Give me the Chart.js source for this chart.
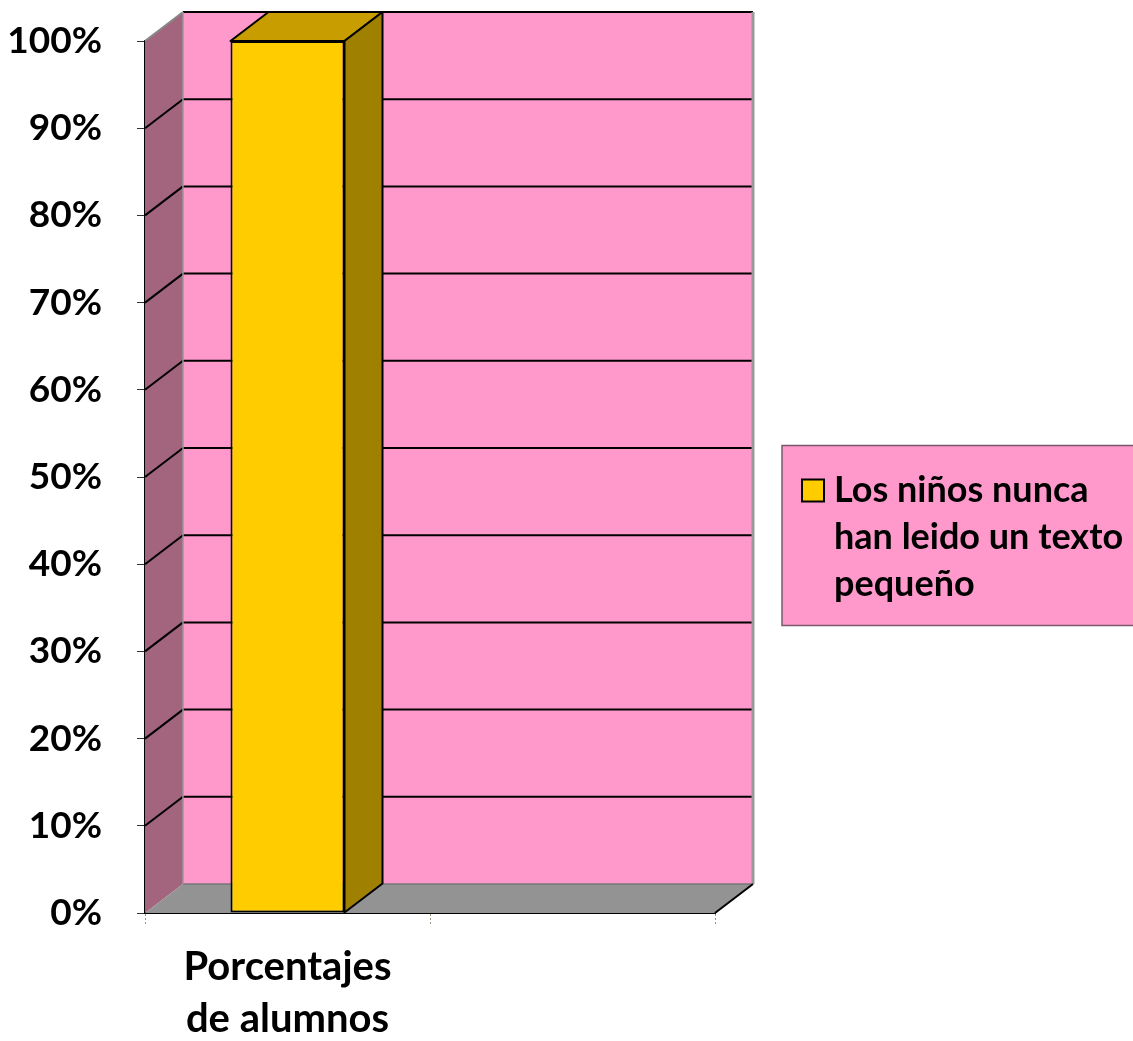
<!DOCTYPE html>
<html lang="es">
<head>
<meta charset="UTF-8">
<title>Porcentajes de alumnos</title>
<script src="https://cdn.jsdelivr.net/npm/chart.js"></script>
<style>
    html, body { margin: 0; padding: 0; background: #fff; }
    #marco { width: 1133px; height: 1041px; position: relative; }
</style>
</head>
<body>

<div id="marco"><canvas id="grafico"></canvas></div>

<script>
    const categorias = [["Porcentajes", "de alumnos"], ""];
    const serie = "Los niños nunca han leido un texto pequeño";
    const valores = [100, null];
    const ejeMin = 0, ejeMax = 100, paso = 10;

    const fuente = "Lato, 'Liberation Sans', sans-serif";
    const prof = { x: 38, y: 29 }; // profundidad del efecto 3D

    function poligono(ctx, pts, relleno, borde, grosor) {
        ctx.beginPath();
        ctx.moveTo(pts[0][0], pts[0][1]);
        for (let i = 1; i < pts.length; i++) ctx.lineTo(pts[i][0], pts[i][1]);
        ctx.closePath();
        if (relleno) { ctx.fillStyle = relleno; ctx.fill(); }
        if (borde) { ctx.strokeStyle = borde; ctx.lineWidth = grosor || 1; ctx.stroke(); }
    }

    function linea(ctx, pts, color, grosor) {
        ctx.beginPath();
        ctx.moveTo(pts[0][0], pts[0][1]);
        for (let i = 1; i < pts.length; i++) ctx.lineTo(pts[i][0], pts[i][1]);
        ctx.strokeStyle = color;
        ctx.lineWidth = grosor;
        ctx.stroke();
    }

    // paredes, suelo y rejilla al fondo
    const fondo3D = {
        id: 'fondo3D',
        beforeDatasetsDraw(chart) {
            const { ctx, chartArea: a, scales: { y } } = chart;
            const dx = prof.x, dy = prof.y;
            ctx.save();
            // pared del fondo
            ctx.fillStyle = '#FF99CC';
            ctx.fillRect(a.left + dx, a.top - dy, a.right - a.left, a.bottom - a.top);
            // pared lateral
            poligono(ctx, [[a.left, a.top], [a.left + dx, a.top - dy], [a.left + dx, a.bottom - dy], [a.left, a.bottom]], '#A3647E');
            // suelo
            poligono(ctx, [[a.left, a.bottom], [a.left + dx, a.bottom - dy], [a.right + dx, a.bottom - dy], [a.right, a.bottom]], '#939393');
            linea(ctx, [[a.left + dx, a.bottom - dy], [a.right + dx, a.bottom - dy]], '#777', 1.5);
            // rejilla
            y.ticks.forEach(t => {
                if (t.value === ejeMin) return;
                const py = y.getPixelForValue(t.value);
                const diag = t.value === ejeMax ? '#888' : '#000';
                linea(ctx, [[a.left, py], [a.left + dx, py - dy]], diag, 2);
                linea(ctx, [[a.left + dx, py - dy], [a.right + dx, py - dy]], '#000', 2);
            });
            // aristas
            linea(ctx, [[a.left + dx, a.top - dy], [a.left + dx, a.bottom - dy]], '#999', 1.5);
            linea(ctx, [[a.right + dx, a.top - dy], [a.right + dx, a.bottom - dy]], '#999', 3);
            linea(ctx, [[a.right, a.bottom], [a.right + dx, a.bottom - dy]], '#000', 2);
            ctx.restore();
        },
        afterDatasetsDraw(chart) {
            const { ctx } = chart;
            const dx = prof.x, dy = prof.y;
            const meta = chart.getDatasetMeta(0);
            ctx.save();
            ctx.lineJoin = 'round';
            meta.data.forEach((barra, i) => {
                if (valores[i] == null) return;
                const p = barra.getProps(['x', 'y', 'base', 'width'], true);
                const izq = p.x - p.width / 2, der = p.x + p.width / 2;
                const arriba = Math.min(p.y, p.base), abajo = Math.max(p.y, p.base);
                poligono(ctx, [[izq, arriba], [izq + dx, arriba - dy], [der + dx, arriba - dy], [der, arriba]], '#C79D00', '#000', 2);
                poligono(ctx, [[der, arriba], [der + dx, arriba - dy], [der + dx, abajo - dy], [der, abajo]], '#A08000', '#000', 2);
            });
            ctx.restore();
        },
        afterDraw(chart) {
            const { ctx } = chart;
            const ds = chart.data.datasets[0];
            const cx = chart.width - 351, cy = chart.height / 2 - 75;
            const alto = 180;
            ctx.save();
            ctx.fillStyle = '#FF99CC';
            ctx.fillRect(cx, cy, 400, alto);
            ctx.strokeStyle = '#7A5A6A';
            ctx.lineWidth = 1.5;
            ctx.strokeRect(cx, cy, 400, alto);
            // texto con salto de linea
            ctx.font = "bold 36px " + fuente;
            const maxAncho = 305;
            const palabras = ds.label.split(' ');
            const lineas = [];
            let actual = '';
            palabras.forEach(w => {
                const prueba = actual ? actual + ' ' + w : w;
                if (ctx.measureText(prueba).width > maxAncho && actual) { lineas.push(actual); actual = w; }
                else actual = prueba;
            });
            if (actual) lineas.push(actual);
            const interlineado = 47;
            const y0 = cy + 45;
            ctx.fillStyle = ds.backgroundColor;
            ctx.fillRect(cx + 20, y0 - 11, 22, 22);
            ctx.strokeStyle = '#000';
            ctx.lineWidth = 2;
            ctx.strokeRect(cx + 20, y0 - 11, 22, 22);
            ctx.fillStyle = '#000';
            ctx.textBaseline = 'middle';
            lineas.forEach((l, i) => ctx.fillText(l, cx + 52, y0 + i * interlineado));
            ctx.restore();
        }
    };

    new Chart(document.getElementById('grafico'), {
        type: 'bar',
        data: {
            labels: categorias,
            datasets: [{
                label: serie,
                data: valores,
                backgroundColor: '#FFCC00',
                borderColor: '#000',
                borderWidth: 2,
                borderSkipped: false,
                barPercentage: 0.4,
                categoryPercentage: 1
            }]
        },
        options: {
            responsive: true,
            maintainAspectRatio: false,
            animation: false,
            layout: { padding: { top: 41, right: 418, left: 0, bottom: 0 } },
            plugins: {
                legend: { display: false },
                tooltip: { enabled: false }
            },
            scales: {
                x: {
                    afterFit: s => { s.height = 128; s.paddingLeft = 0; s.paddingRight = 0; },
                    grid: {
                        offset: true,
                        drawOnChartArea: false,
                        tickLength: 12,
                        color: '#9a9a80',
                        tickBorderDash: [2, 2]
                    },
                    border: { display: true, color: '#000', width: 2 },
                    ticks: {
                        color: '#000',
                        padding: 16,
                        maxRotation: 0,
                        font: { family: fuente, size: 40, weight: 'bold', lineHeight: 1.3 }
                    }
                },
                y: {
                    min: ejeMin,
                    max: ejeMax,
                    afterFit: s => { s.width = 145; s.paddingTop = 0; s.paddingBottom = 0; },
                    grid: {
                        drawOnChartArea: false,
                        tickLength: 8,
                        color: '#333'
                    },
                    border: { display: true, color: '#000', width: 2 },
                    ticks: {
                        stepSize: paso,
                        color: '#000',
                        padding: 35,
                        callback: v => v + '%',
                        font: { family: fuente, size: 37, weight: 'bold' }
                    }
                }
            }
        },
        plugins: [fondo3D]
    });
</script>

</body>
</html>
